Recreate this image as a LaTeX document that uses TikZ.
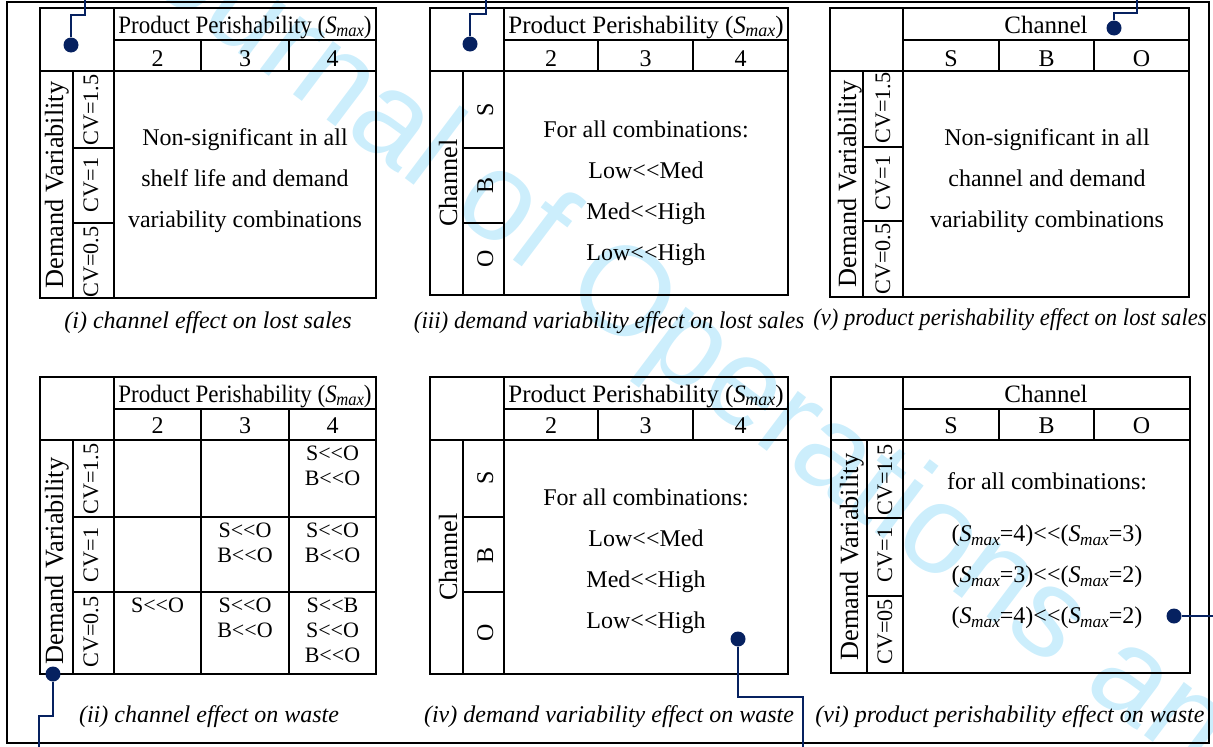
\documentclass[tikz,border=0pt]{standalone}
\usepackage{fontspec}
\usepackage{graphicx}
\setmainfont{Liberation Serif}
\newfontfamily\wmfont{Liberation Sans}
\definecolor{navy}{RGB}{6,33,96}
\definecolor{wmblue}{RGB}{204,238,252}
\newcommand{\smax}{\textit{S}\kern-0.5pt\raisebox{-0.3ex}{\scalebox{0.72}{\textit{max}}}}
\newcommand{\llt}{<\kern0pt<}

\tikzset{
  grid/.style={line width=2pt, line cap=rect},
  hdr/.style={anchor=base, inner sep=0pt, font=\fontsize{24}{28}\selectfont},
  toplab/.style={hdr, font=\fontsize{25}{28}\selectfont},
  vlab/.style={hdr, rotate=90, font=\fontsize{26.3}{28}\selectfont},
  cvlab/.style={hdr, rotate=90, font=\fontsize{22.2}{26}\selectfont},
  body/.style={align=center, inner sep=0pt, font=\fontsize{24}{41}\selectfont},
  cell/.style={align=center, anchor=north, inner sep=0pt, font=\fontsize{22}{25}\selectfont},
  capt/.style={hdr, font=\fontsize{24}{28}\selectfont\itshape},
  lead/.style={draw=navy, line width=2pt},
  pin/.style={circle, fill=navy, inner sep=0pt, minimum size=15pt},
  wm/.style={anchor=base west, rotate=-37, inner sep=0pt, text=wmblue, font=\fontsize{126}{130}\wmfont},
}

\begin{document}
\begin{tikzpicture}[x=1pt,y=-1pt]
\useasboundingbox (0,0) rectangle (1213,747);
\begin{scope}
\clip (0,0) rectangle (1213,747);
\node[wm] (wmark) at (91,-58) {Journal of Operations and};
\end{scope}
\draw[grid] (7,2) rectangle (1209,743);

% table frames
\foreach \l/\t/\r/\b/\ca/\cb/\na/\nb/\ra/\rb in {
  40/8/376/298/73/114/201/289/148/223,
  430/8/788/295/463/504/598/693/148/223,
  830/8/1189/297/863/903/999/1094/147/221,
  40/377/376/674/73/114/201/289/517/592,
  430/377/788/674/463/504/598/693/517/592,
  831/377/1190/673/867/903/999/1094/518/596}
{
  \draw[grid] (\l,\t) rectangle (\r,\b);
  \draw[grid] (\cb,\t) -- (\cb,\b);
  \draw[grid] (\l,\t+63) -- (\r,\t+63);
  \draw[grid] (\cb,\t+32) -- (\r,\t+32);
  \draw[grid] (\na,\t+32) -- (\na,\t+63) (\nb,\t+32) -- (\nb,\t+63);
  \draw[grid] (\ca,\t+63) -- (\ca,\b);
  \draw[grid] (\ca,\ra) -- (\cb,\ra) (\ca,\rb) -- (\cb,\rb);
}
% grid of panel (ii)
\draw[grid] (201,440) -- (201,674) (289,440) -- (289,674);
\draw[grid] (114,517) -- (376,517) (114,592) -- (376,592);

% (i) channel effect on lost sales
\node[toplab] (ppi) at (245,33) {\scalebox{0.92}[1]{Product Perishability (\smax)}};
\foreach \x/\v in {157.5/2,245/3,332.5/4}
  \node[hdr] (si\v) at (\x,66) {\v};
\node[vlab] (dvi) at (63,185) {Demand Variability};
\foreach \y/\t/\n in {110/CV=1.5/a,185/CV=1/b,262/CV=0.5/c}
  \node[cvlab] (cvi\n) at (98,\y) {\t};
\node[body] (bodyi) at (245,181) {Non-significant in all\\shelf life and demand\\variability combinations};
\node[capt] (capi) at (208,328) {(i) channel effect on lost sales};

% (iii) demand variability effect on lost sales
\node[toplab] (ppiii) at (646,33) {Product Perishability (\smax)};
\foreach \x/\v in {551/2,645.5/3,740.5/4}
  \node[hdr] (siii\v) at (\x,66) {\v};
\node[vlab] (chiii) at (457,183) {Channel};
\foreach \y/\t in {110/S,185/B,259/O}
  \node[hdr, rotate=90] (chiii\t) at (493,\y) {\t};
\node[body] (bodyiii) at (646,193) {For all combinations:\\Low\llt Med\\Med\llt High\\Low\llt High};
\node[capt] (capiii) at (609,328) {\scalebox{0.96}[1]{(iii) demand variability effect on lost sales}};

% (v) product perishability effect on lost sales
\node[toplab] (chv) at (1046,33) {Channel};
\foreach \x/\t in {951/S,1046.5/B,1141.5/O}
  \node[hdr] (chv\t) at (\x,66) {\t};
\node[vlab] (dvv) at (856,184) {Demand Variability};
\foreach \y/\t/\n in {108/CV=1.5/a,183/CV=1/b,259/CV=0.5/c}
  \node[cvlab] (cvv\n) at (890,\y) {\t};
\node[body] (bodyv) at (1047,181) {Non-significant in all\\channel and demand\\variability combinations};
\node[capt] (capv) at (1010,325) {\scalebox{0.945}[1]{(v) product perishability effect on lost sales}};

% (ii) channel effect on waste
\node[toplab] (ppii) at (245,402) {\scalebox{0.92}[1]{Product Perishability (\smax)}};
\foreach \x/\v in {157.5/2,245/3,332.5/4}
  \node[hdr] (sii\v) at (\x,433) {\v};
\node[vlab] (dvii) at (63,561) {Demand Variability};
\foreach \y/\t/\n in {479/CV=1.5/a,555/CV=1/b,632/CV=0.5/c}
  \node[cvlab] (cvii\n) at (98,\y) {\t};
\node[cell] (ca4) at (332.5,446) {S\llt O\\B\llt O};
\node[cell] (cb3) at (245,523) {S\llt O\\B\llt O};
\node[cell] (cb4) at (332.5,523) {S\llt O\\B\llt O};
\node[cell] (cc2) at (157.5,598) {S\llt O};
\node[cell] (cc3) at (245,598) {S\llt O\\B\llt O};
\node[cell] (cc4) at (332.5,598) {S\llt B\\S\llt O\\B\llt O};
\node[capt] (capii) at (209,722) {(ii) channel effect on waste};

% (iv) demand variability effect on waste
\node[toplab] (ppiv) at (646,402) {Product Perishability (\smax)};
\foreach \x/\v in {551/2,645.5/3,740.5/4}
  \node[hdr] (siv\v) at (\x,433) {\v};
\node[vlab] (chiv) at (457,557) {Channel};
\foreach \y/\t in {478/S,555/B,633/O}
  \node[hdr, rotate=90] (chiv\t) at (493,\y) {\t};
\node[body] (bodyiv) at (646,561) {For all combinations:\\Low\llt Med\\Med\llt High\\Low\llt High};
\node[capt] (capiv) at (609,722) {(iv) demand variability effect on waste};

% (vi) product perishability effect on waste
\node[toplab] (chvi) at (1046,402) {Channel};
\foreach \x/\t in {951/S,1046.5/B,1141.5/O}
  \node[hdr] (chvi\t) at (\x,433) {\t};
\node[vlab] (dvvi) at (858,557) {Demand Variability};
\foreach \y/\t/\n in {480/CV=1.5/a,555/CV=1/b,632/CV=05/c}
  \node[cvlab] (cvvi\n) at (892,\y) {\t};
\node[hdr] (forvi) at (1047,489) {for all combinations:};
\node[body] (bodyvi) at (1047,577) {(\smax=4)\llt(\smax=3)\\(\smax=3)\llt(\smax=2)\\(\smax=4)\llt(\smax=2)};
\node[capt] (capvi) at (1010,722) {(vi) product perishability effect on waste};

% callouts
\node[pin] (pinA) at (71,45) {};
\node[pin] (pinB) at (470,44) {};
\node[pin] (pinC) at (1114,28) {};
\node[pin] (pinD) at (53,674) {};
\node[pin] (pinE) at (738,639) {};
\node[pin] (pinF) at (1174,616) {};
\coordinate (endA) at (85,0);
\coordinate (endB) at (486,0);
\coordinate (endC) at (1137,0);
\coordinate (endD) at (39,747);
\coordinate (endE) at (803,747);
\coordinate (endF) at (1213,616);
\draw[lead] (pinA) |- (85,15) -- (endA);
\draw[lead] (pinB) |- (486,14) -- (endB);
\draw[lead] (pinC) |- (1137,13) -- (endC);
\draw[lead] (pinD) |- (39,716) -- (endD);
\draw[lead] (pinE) |- (803,697) -- (endE);
\draw[lead] (pinF) -- (endF);
\end{tikzpicture}
\end{document}
